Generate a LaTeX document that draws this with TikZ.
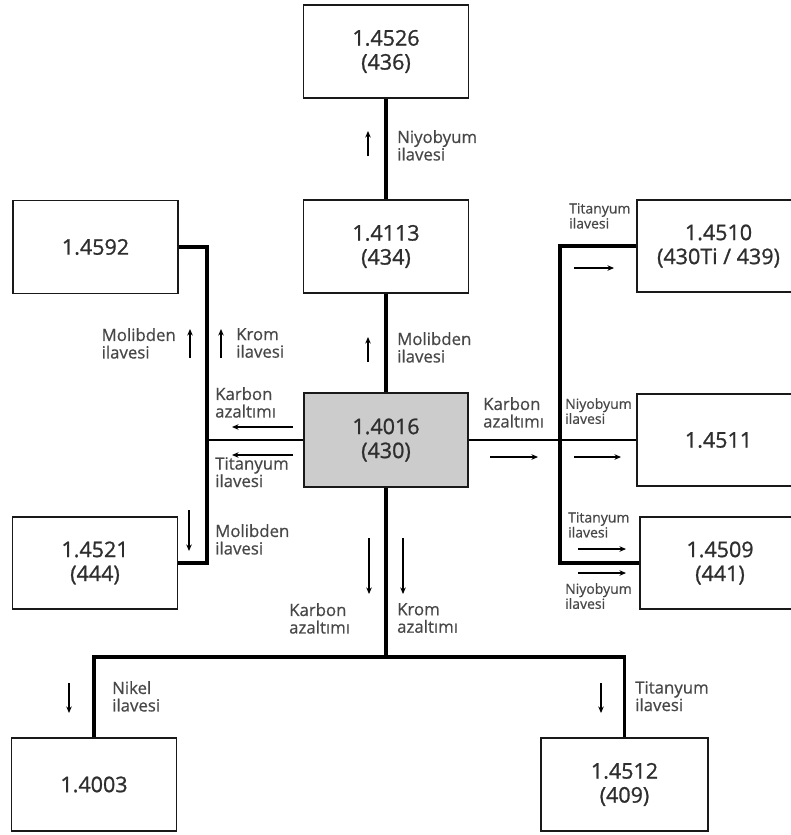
\documentclass[tikz,border=0pt]{standalone}
\usepackage{fontspec}
\setmainfont{Open Sans}
\newfontfamily\boxfont[FakeBold=1.0]{Open Sans}
\newfontfamily\lblfont[FakeBold=0.6]{Open Sans}
\usetikzlibrary{arrows.meta}
\begin{document}
\begin{tikzpicture}[x=1pt,y=-1pt,
 box/.style={draw=black!90, line width=1.6pt, minimum width=165pt, minimum height=93pt, inner sep=0pt, align=center, font=\boxfont\fontsize{21.5}{24}\selectfont, text=black!82},
 conn/.style={line width=3.2pt},
 thinconn/.style={line width=1.3pt},
 arr/.style={line width=1.1pt, -{Stealth[length=6.5pt,width=5.5pt]}},
 lbl/.style={inner sep=0pt, align=left, font=\lblfont\fontsize{16.8}{17.5}\selectfont, text=black!72, anchor=north west},
 slbl/.style={lbl, font=\lblfont\fontsize{14}{15}\selectfont},
]
\useasboundingbox (0,0) rectangle (791,835);
\clip (0,0) rectangle (791,835);

% boxes
\node[box] (b4526) at (386,51.5) {1.4526\\(436)};
\node[box] (b4113) at (386,246.5) {1.4113\\(434)};
\node[box, fill=black!20, minimum width=164pt, minimum height=94pt] (b4016) at (386,440) {1.4016\\(430)};
\node[box] (b4592) at (95.5,247) {1.4592};
\node[box, minimum height=92pt] (b4521) at (95,563) {1.4521\\(444)};
\node[box, minimum width=163pt, minimum height=92pt] (b4510) at (718.5,246) {1.4510\\(430Ti / 439)};
\node[box, minimum width=163pt, minimum height=92pt] (b4511) at (718.5,440) {1.4511};
\node[box, minimum width=160pt, minimum height=92pt] (b4509) at (720,563) {1.4509\\(441)};
\node[box] (b4003) at (94,784.5) {1.4003};
\node[box, minimum width=167pt] (b4512) at (624.5,784.5) {1.4512\\(409)};

% junction coordinates
\coordinate (jlt) at (207,247);
\coordinate (jlb) at (207,563);
\coordinate (jrt) at (560,246);
\coordinate (jrb) at (560,563);
\coordinate (jb) at (386,657);

% connectors
\draw[conn] (b4016.north) -- (b4113.south);
\draw[conn] (b4113.north) -- (b4526.south);
\draw[conn] (b4592.east) -- (jlt) -- (jlb) -- (b4521.east);
\draw[thinconn] (b4016.west) -- (b4016.west -| jlt);
\draw[conn] (b4510.west) -- (jrt) -- (jrb) -- (b4509.west);
\draw[thinconn] (b4016.east) -- (b4511.west);
\draw[conn] (b4016.south) -- (jb);
\draw[conn] (b4003.north) |- (jb) -| (b4512.north);

% arrows
\coordinate (a1s) at (368,156); \coordinate (a1e) at (368,131);
\draw[arr] (a1s) -- (a1e);
\coordinate (a2s) at (368,362); \coordinate (a2e) at (368,337);
\draw[arr] (a2s) -- (a2e);
\coordinate (a3s) at (190,358); \coordinate (a3e) at (190,329);
\draw[arr] (a3s) -- (a3e);
\coordinate (a4s) at (221,358); \coordinate (a4e) at (221,329);
\draw[arr] (a4s) -- (a4e);
\coordinate (a5s) at (293,427); \coordinate (a5e) at (232,427);
\draw[arr] (a5s) -- (a5e);
\coordinate (a6s) at (293,455); \coordinate (a6e) at (232,455);
\draw[arr] (a6s) -- (a6e);
\coordinate (a7s) at (189,510); \coordinate (a7e) at (189,551);
\draw[arr] (a7s) -- (a7e);
\coordinate (a8s) at (490,457); \coordinate (a8e) at (538,457);
\draw[arr] (a8s) -- (a8e);
\coordinate (a9s) at (574,457); \coordinate (a9e) at (621,457);
\draw[arr] (a9s) -- (a9e);
\coordinate (a10s) at (574,268); \coordinate (a10e) at (614,268);
\draw[arr] (a10s) -- (a10e);
\coordinate (a11s) at (578,549); \coordinate (a11e) at (626,549);
\draw[arr] (a11s) -- (a11e);
\coordinate (a12s) at (578,573); \coordinate (a12e) at (626,573);
\draw[arr] (a12s) -- (a12e);
\coordinate (a13s) at (369,538); \coordinate (a13e) at (369,594);
\draw[arr] (a13s) -- (a13e);
\coordinate (a14s) at (403,538); \coordinate (a14e) at (403,594);
\draw[arr] (a14s) -- (a14e);
\coordinate (a15s) at (69,683); \coordinate (a15e) at (69,713);
\draw[arr] (a15s) -- (a15e);
\coordinate (a16s) at (601,683); \coordinate (a16e) at (601,713);
\draw[arr] (a16s) -- (a16e);

% labels
\node[lbl] (l1) at (397,130) {Niyobyum\\ilavesi};
\node[lbl] (l2) at (397,332) {Molibden\\ilavesi};
\node[lbl, anchor=north east] (l3) at (176,328) {Molibden\\ilavesi};
\node[lbl] (l4) at (236,328) {Krom\\ilavesi};
\node[lbl] (l5) at (215,387) {Karbon\\azaltımı};
\node[lbl] (l6) at (215,457) {Titanyum\\ilavesi};
\node[lbl] (l7) at (215,524) {Molibden\\ilavesi};
\node[lbl] (l8) at (483,397) {Karbon\\azaltımı};
\node[slbl] (l9) at (565,398) {Niyobyum\\ilavesi};
\node[slbl] (l10) at (569,203) {Titanyum\\ilavesi};
\node[slbl] (l11) at (568,512) {Titanyum\\ilavesi};
\node[slbl] (l12) at (565,583) {Niyobyum\\ilavesi};
\node[lbl] (l13) at (289,603) {Karbon\\azaltımı};
\node[lbl] (l14) at (397,603) {Krom\\azaltımı};
\node[lbl] (l15) at (112,681) {Nikel\\ilavesi};
\node[lbl] (l16) at (635,681) {Titanyum\\ilavesi};
\end{tikzpicture}
\end{document}
